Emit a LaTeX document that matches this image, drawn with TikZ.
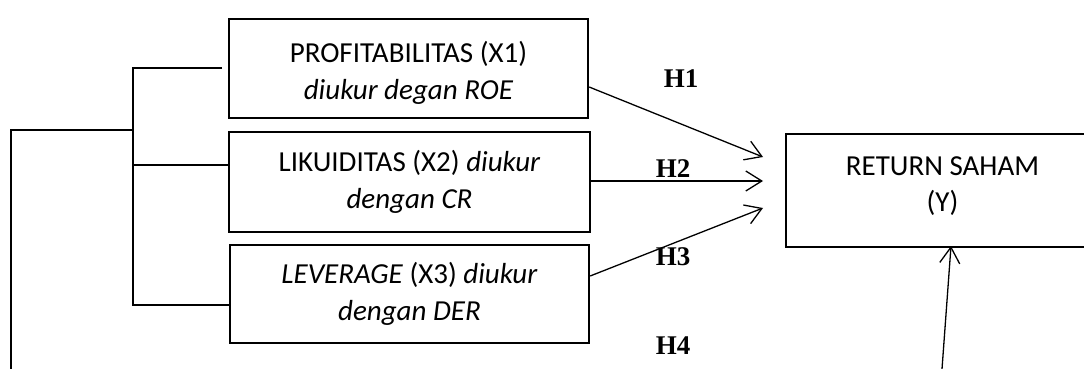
\documentclass[tikz,border=0pt]{standalone}
\usepackage{fontspec}
\setmainfont{Carlito}
\newfontfamily\hfont{Liberation Serif}
\usetikzlibrary{arrows.meta}
\begin{document}
\begin{tikzpicture}[x=1pt,y=-1pt,
  varbox/.style={draw=black,line width=2.3pt,align=center,inner sep=0pt,
    font=\fontsize{29}{37}\selectfont},
  hlab/.style={font=\hfont\fontsize{27}{30}\selectfont\bfseries,inner sep=0pt},
  conn/.style={line width=1.3pt},
  arr/.style={conn,-{Straight Barb[length=16pt,width=20pt,line width=1.3pt]}},
]
\useasboundingbox (0,0) rectangle (1084,369);
\clip (0,0) rectangle (1084,369);

% variable boxes
\node[varbox,minimum width=359pt,minimum height=99pt] (b1) at (408.5,68.5)
  {\rule{0pt}{29pt}PROFITABILITAS (X1)\\\textit{diukur degan ROE}};
\node[varbox,minimum width=361pt,minimum height=100pt] (b2) at (409.5,182)
  {LIKUIDITAS (X2) \textit{diukur}\\\textit{dengan CR}};
\node[varbox,minimum width=359pt,minimum height=98pt] (b3) at (409.5,294)
  {\textit{LEVERAGE} (X3) \textit{diukur}\\\textit{dengan DER}};

% dependent box (right edge outside the picture)
\node[varbox,minimum width=313pt,minimum height=113pt] (y) at (942.5,190.5) {};
\node[align=center,inner sep=0pt,font=\fontsize{29}{36.5}\selectfont] (ytext) at (942.5,186)
  {RETURN SAHAM\\(Y)};

% bracket
\coordinate (v1) at (133,68);
\coordinate (t1) at (222,68);
\coordinate (vm) at (133,165);
\coordinate (v3) at (133,305);
\coordinate (vj) at (133,130);
\coordinate (l1) at (11,130);
\coordinate (l2) at (11,369);
\draw[conn] (t1) -- (v1) -- (v3) -- (v3 -| b3.west);
\draw[conn] (vm) -- (vm -| b2.west);
\draw[conn] (vj) -- (l1) -- (l2);

% arrow ends
\coordinate (e1) at (763,157);
\coordinate (e2) at (763,181);
\coordinate (e3) at (763,208);
\coordinate (s4) at (942,369);

\draw[arr] (b1.east |- 0,87) -- (e1);
\draw[arr] (b2.east |- e2) -- (e2);
\draw[arr] (b3.east |- 0,276) -- (e3);
\draw[arr] (s4) -- (951,246);

% labels
\node[hlab] (h1) at (681,79) {H1};
\node[hlab] (h2) at (673,169) {H2};
\node[hlab] (h3) at (673,257) {H3};
\node[hlab] (h4) at (673,346) {H4};
\end{tikzpicture}
\end{document}
